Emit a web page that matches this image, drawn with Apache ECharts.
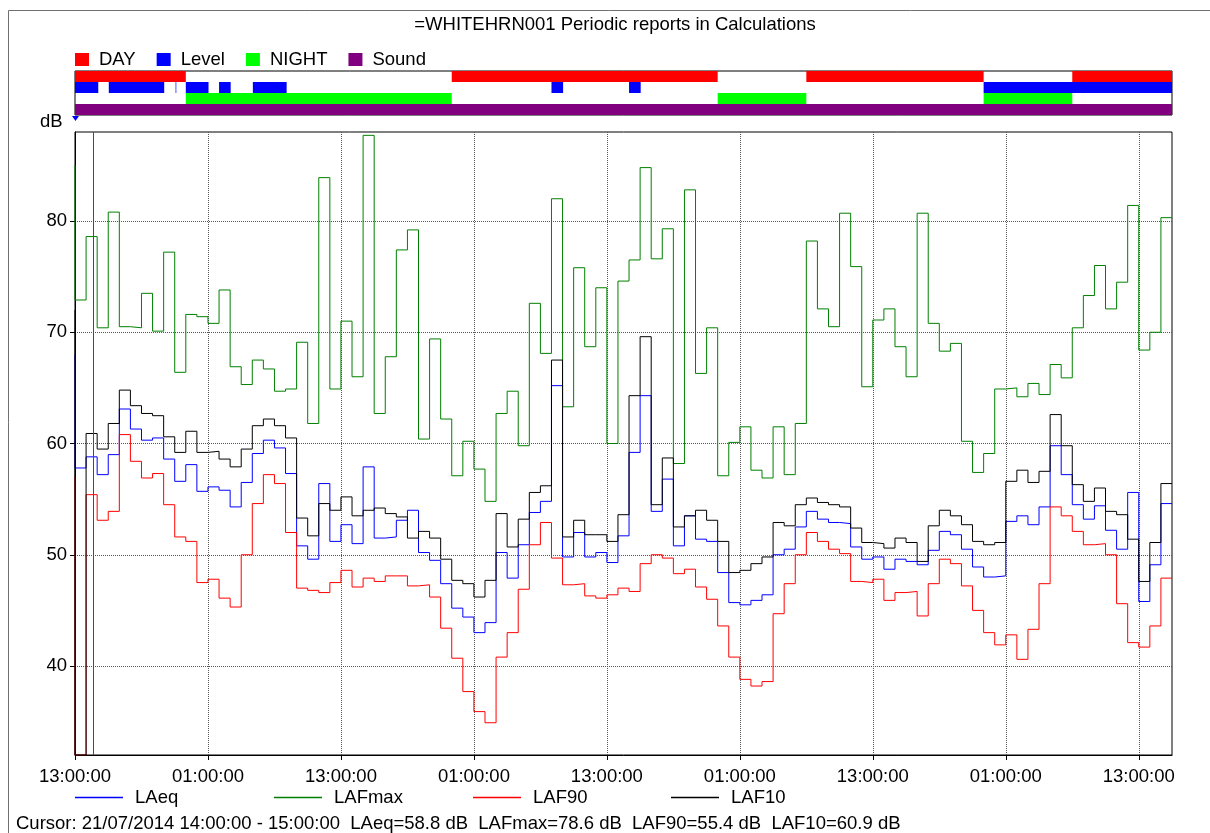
<!DOCTYPE html>
<html><head><meta charset="utf-8">
<script src="https://cdn.jsdelivr.net/npm/echarts@6/dist/echarts.min.js"></script>
<style>html,body{margin:0;padding:0;background:#fff}#chart{width:1210px;height:833px}</style>
</head><body><div id="chart"></div>
<script>
// ---- data ----
const titleText = '=WHITEHRN001 Periodic reports in Calculations';
const cursorText = 'Cursor: 21/07/2014 14:00:00 - 15:00:00  LAeq=58.8 dB  LAFmax=78.6 dB  LAF90=55.4 dB  LAF10=60.9 dB';
const hourCount = 99;               // hours shown, starting 13:00:00
const xTickValues = [0, 12, 24, 36, 48, 60, 72, 84, 96];
const xTickLabels = ['13:00:00', '01:00:00', '13:00:00', '01:00:00', '13:00:00', '01:00:00', '13:00:00', '01:00:00', '13:00:00'];
const yTickValues = [40, 50, 60, 70, 80];
const yMin = 32, yMax = 88;
const cursorHour = 1.64;

// value just before the first interval (left edge)
const leadLAeq = 68, leadLAFmax = 85, leadLAF90 = 57, leadLAF10 = 72;

const LAeq = [57.8,58.8,57.2,59.0,63.1,61.3,60.3,60.5,58.6,56.6,58.1,55.7,56.1,55.8,54.3,56.5,59.1,60.3,59.6,57.3,
  50.8,49.6,56.4,51.2,52.7,51.0,57.9,51.5,51.6,53.1,54.0,50.2,49.5,47.4,45.2,44.4,43.0,43.9,50.2,47.9,
  50.9,53.8,54.8,65.2,49.8,52.0,49.8,50.2,49.3,51.7,59.2,64.3,53.9,56.8,50.8,53.5,51.4,51.2,48.4,45.7,
  45.5,45.9,46.4,50.0,50.5,52.5,53.9,53.2,52.9,52.8,50.7,49.6,49.8,48.7,49.6,49.4,49.1,50.4,52.1,51.8,
  50.5,48.9,48.0,48.1,53.0,53.5,52.7,54.3,59.8,57.2,54.5,53.2,54.4,52.2,50.5,55.6,45.8,49.1,54.6];
const LAFmax = [72.9,78.6,70.4,80.8,70.5,70.4,73.5,70.1,77.2,66.4,71.6,71.4,70.8,73.8,66.9,65.3,67.5,66.7,64.7,64.9,
  69.1,61.8,83.9,64.9,71.0,66.0,87.7,62.7,67.8,77.4,79.2,60.4,69.4,62.2,57.1,60.2,57.7,54.8,62.7,64.7,
  59.8,72.6,68.1,82.0,63.3,75.8,68.7,74.0,60.0,74.6,76.5,84.8,76.6,79.3,58.2,82.8,66.3,70.4,57.1,60.1,
  61.5,57.6,56.9,61.5,57.2,61.8,78.2,72.1,70.5,80.7,75.9,65.1,71.1,72.1,68.7,66.0,80.7,70.8,68.3,69.0,
  60.2,57.4,59.1,64.9,65.0,64.2,65.4,64.4,67.1,65.9,70.4,73.3,76.0,72.1,74.5,81.4,68.4,70.0,80.3];
const LAF90 = [32,55.4,53.1,53.9,60.8,58.4,56.9,57.3,54.5,51.6,51.2,47.5,47.8,46.1,45.3,50.0,54.6,57.2,56.4,52.0,
  47.0,46.8,46.6,47.5,48.6,47.1,47.9,47.6,48.1,48.1,47.2,47.3,46.2,43.4,40.7,37.7,35.9,34.9,40.8,43.0,
  46.9,50.9,52.9,49.7,47.3,47.4,46.3,46.1,46.4,47.0,46.7,49.2,50.0,49.7,48.3,48.7,47.1,46.0,43.6,40.8,
  38.8,38.2,38.6,44.7,47.4,50.0,52.0,51.2,50.5,50.1,47.6,47.5,47.8,45.9,46.6,46.7,44.5,47.4,49.6,49.2,
  47.2,45.0,43.0,41.9,42.8,40.6,43.3,47.4,54.3,53.5,52.1,50.9,51.0,50.0,45.6,42.1,41.7,43.6,47.9];
const LAF10 = [32,60.9,59.5,61.8,64.8,63.4,62.7,62.5,60.6,59.2,61.1,59.2,59.3,58.6,57.9,59.5,61.6,62.2,61.6,60.5,
  53.3,51.7,54.6,54.0,55.2,53.5,54.0,54.2,53.7,53.4,51.5,52.1,51.5,49.6,47.7,47.4,46.2,47.7,53.7,50.7,
  53.2,55.6,56.2,67.5,51.6,53.1,51.8,51.8,51.2,53.6,64.3,69.6,54.5,58.7,52.5,53.5,54.0,53.1,51.2,48.4,
  48.6,49.2,49.8,52.9,52.6,54.5,55.1,54.7,54.5,54.3,52.4,51.1,51.0,50.6,51.5,51.1,49.4,52.6,54.0,53.5,
  52.7,51.2,50.9,51.1,56.6,57.6,56.5,57.5,62.6,59.8,56.3,54.8,56.0,53.9,53.6,51.4,47.6,51.1,56.4];

// event bars: [startHour, endHour]
const bandNames = ['DAY', 'Level', 'NIGHT', 'Sound'];
const dayPeriods = [[0, 10], [34, 58], [66, 82], [90, 99]];
const levelPeriods = [[0, 2.1], [3.05, 8.05], [9.08, 9.14], [10, 12.05], [13, 14.05], [16.05, 19.1], [43, 44.05], [50, 51.05], [82, 99]];
const nightPeriods = [[10, 34], [58, 66], [82, 90]];
const soundPeriods = [[0, 99]];

// ---- build ----
const FONT = 'Liberation Sans, Arial, sans-serif';
const FS = 18.5;
const lineColors = {LAeq: '#0000FF', LAFmax: '#008000', LAF90: '#FF0000', LAF10: '#000000'};
const bandColors = {DAY: '#FF0000', Level: '#0000FF', NIGHT: '#00FF00', Sound: '#800080'};

function toSteps(lead, vals) {
  const pts = [[0, lead]];
  vals.forEach((v, i) => pts.push([i + 1, v]));
  return pts;
}
function bandSeries(name, row, periods) {
  return {
    name, type: 'custom', xAxisIndex: 1, yAxisIndex: 1,
    itemStyle: {color: bandColors[name]},
    encode: {x: [1, 2], y: 0},
    data: periods.map(p => [row, p[0], p[1]]),
    renderItem(params, api) {
      const r = api.value(0);
      const p0 = api.coord([api.value(1), r]);
      const p1 = api.coord([api.value(2), r]);
      const h = api.size([0, 1])[1];
      return {type: 'rect', shape: {x: p0[0], y: p0[1] - h / 2, width: p1[0] - p0[0], height: h},
        style: {fill: bandColors[name]}};
    },
    silent: true, z: 3
  };
}
function lineSeries(name, lead, vals) {
  return {
    name, type: 'line', step: 'start', xAxisIndex: 0, yAxisIndex: 0,
    data: toSteps(lead, vals), symbol: 'none', showSymbol: false,
    lineStyle: {color: lineColors[name], width: 1}, itemStyle: {color: lineColors[name]},
    clip: true, silent: true
  };
}

const series = [
  lineSeries('LAeq', leadLAeq, LAeq),
  lineSeries('LAFmax', leadLAFmax, LAFmax),
  lineSeries('LAF90', leadLAF90, LAF90),
  lineSeries('LAF10', leadLAF10, LAF10),
  bandSeries('DAY', 0, dayPeriods),
  bandSeries('Level', 1, levelPeriods),
  bandSeries('NIGHT', 2, nightPeriods),
  bandSeries('Sound', 3, soundPeriods)
];
series[3].markLine = {
  silent: true, symbol: 'none', label: {show: false},
  lineStyle: {color: '#FF0000', type: 'solid', width: 1},
  data: [{xAxis: cursorHour}]
};

const lineLegendLefts = [75, 274, 473, 671];
const lineLegends = ['LAeq', 'LAFmax', 'LAF90', 'LAF10'].map((n, i) => ({
  data: [n], left: lineLegendLefts[i], top: 788, padding: 0, icon: 'rect', itemWidth: 48, itemHeight: 1.5,
  textStyle: {fontFamily: FONT, fontSize: FS, color: '#000', padding: [0, 0, 0, 7]},
  selectedMode: false
}));

const chart = echarts.init(document.getElementById('chart'), null, {renderer: 'canvas'});
chart.setOption({
  animation: false,
  backgroundColor: '#fff',
  title: {text: titleText, left: 610, textAlign: 'center', top: 10,
    textStyle: {fontFamily: FONT, fontSize: FS, fontWeight: 'normal', color: '#000'}},
  legend: [{
    data: bandNames, left: 75, top: 50, padding: 0, icon: 'rect', itemWidth: 14, itemHeight: 13, itemGap: 21,
    textStyle: {fontFamily: FONT, fontSize: FS, color: '#000', padding: [0, 0, 0, 5]},
    selectedMode: false
  }].concat(lineLegends),
  grid: [
    {left: 75, top: 132, width: 1097, height: 623, show: true, borderColor: '#000', borderWidth: 1, containLabel: false},
    {left: 75, top: 71, width: 1097, height: 44, show: true, borderColor: '#000', borderWidth: 1, containLabel: false}
  ],
  xAxis: [{
    type: 'value', gridIndex: 0, min: 0, max: hourCount,
    axisLine: {show: true, lineStyle: {color: '#000'}},
    axisTick: {show: true, customValues: xTickValues, length: 5, lineStyle: {color: '#000'}},
    axisLabel: {customValues: xTickValues, margin: 12, color: '#000', fontFamily: FONT, fontSize: FS,
      formatter: v => xTickLabels[xTickValues.indexOf(v)] || ''},
    splitLine: {show: true, lineStyle: {color: '#555', type: [1, 1], width: 1}}
  }, {
    type: 'value', gridIndex: 1, min: 0, max: hourCount, show: false
  }],
  yAxis: [{
    type: 'value', gridIndex: 0, min: yMin, max: yMax,
    axisLine: {show: true, lineStyle: {color: '#000'}},
    axisTick: {show: true, customValues: yTickValues, length: 5, lineStyle: {color: '#000'}},
    axisLabel: {customValues: yTickValues, margin: 8, color: '#000', fontFamily: FONT, fontSize: FS},
    splitLine: {show: true, lineStyle: {color: '#555', type: [1, 1], width: 1}}
  }, {
    type: 'category', gridIndex: 1, data: bandNames, inverse: true, show: false,
    boundaryGap: true
  }],
  graphic: [
    {type: 'rect', silent: true, shape: {x: 8.5, y: 10.5, width: 1230, height: 840},
      style: {fill: 'none', stroke: '#707070', lineWidth: 1}},
    {type: 'text', left: 40, top: 112, silent: true,
      style: {text: 'dB', fontFamily: FONT, fontSize: FS, fill: '#000'}},
    {type: 'polygon', silent: true, shape: {points: [[72, 116], [79, 116], [75.5, 121]]},
      style: {fill: '#0000FF'}},
    {type: 'text', left: 16, top: 814, silent: true,
      style: {text: cursorText, fontFamily: FONT, fontSize: FS, fill: '#000'}}
  ],
  series
});
</script></body></html>
